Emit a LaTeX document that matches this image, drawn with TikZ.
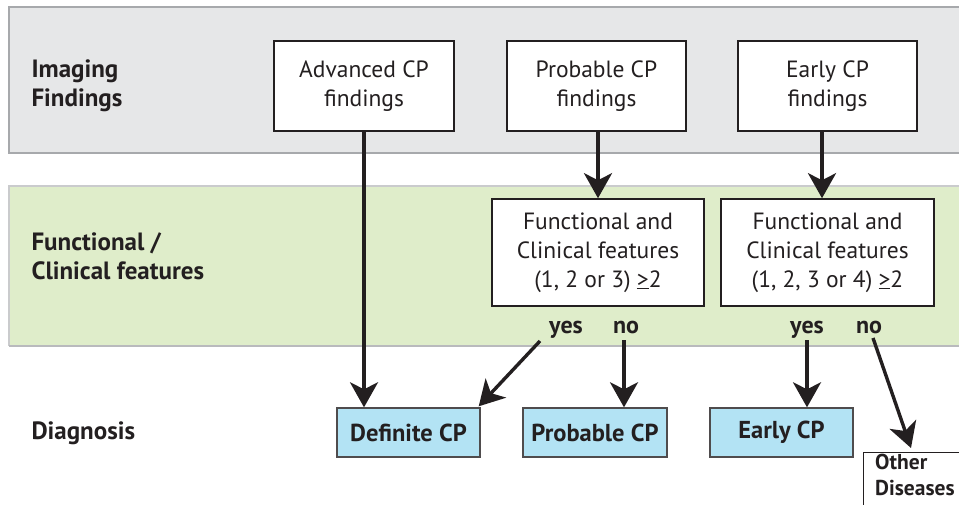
\documentclass[tikz,border=0pt]{standalone}
\usepackage{fontspec}
\setmainfont{PT Sans}
\usetikzlibrary{arrows.meta,calc}
\definecolor{bandgray}{HTML}{E6E7E8}
\definecolor{bandgreen}{HTML}{DFEDCA}
\definecolor{bandline}{HTML}{A7A9AC}
\definecolor{boxblue}{HTML}{B3E3F4}
\definecolor{ink}{HTML}{231F20}
\tikzset{
  wbox/.style={draw=ink, line width=1.6pt, fill=white, align=center, inner sep=0pt,
    font=\fontsize{23.5}{29}\selectfont, text=ink},
  dbox/.style={draw=ink!80, line width=1.4pt, fill=boxblue, align=center, inner sep=0pt,
    minimum width=143pt, minimum height=49pt, font=\fontsize{24.5}{24}\selectfont\bfseries, text=ink},
  rowlbl/.style={anchor=west, align=left, font=\fontsize{25}{29}\selectfont\bfseries, text=ink},
  yn/.style={font=\fontsize{24}{24}\selectfont\bfseries, text=ink, inner sep=1pt, anchor=base},
  arr/.style={draw=ink, line width=3.4pt, -{Stealth[length=25pt,width=28pt,inset=7pt]}},
}
\begin{document}
\begin{tikzpicture}[x=1pt,y=-1pt]
\useasboundingbox (0,0) rectangle (959,504);
\clip (0,0) rectangle (959,504);
% bands
\fill[bandgray] (9,7) rectangle (975,153);
\draw[bandline, line width=1.8pt] (975,7) -- (9,7) -- (9,153) -- (975,153);
\fill[bandgreen] (9,186) rectangle (975,346);
\draw[bandline!60, line width=1.5pt] (975,186) -- (9,186) -- (9,346);
\draw[bandline!80, line width=2pt] (9,346) -- (975,346);
% row labels
\node[rowlbl] (lbl1) at (28,86) {Imaging\\Findings};
\node[rowlbl] (lbl2) at (28,256) {Functional /\\Clinical features};
\node[rowlbl] (lbl3) at (28,433) {Diagnosis};
% top boxes
\node[wbox, minimum width=180pt, minimum height=90pt] (adv) at (364,86) {Advanced CP\\findings};
\node[wbox, minimum width=179pt, minimum height=90pt] (probf) at (596.5,86) {Probable CP\\findings};
\node[wbox, minimum width=179pt, minimum height=90pt] (earlyf) at (827.5,86) {Early CP\\findings};
% functional boxes
\node[wbox, minimum width=212pt, minimum height=107pt] (func1) at (598,252.5) {Functional and\\Clinical features\\(1, 2 or 3) \underline{>}2};
\node[wbox, minimum width=213pt, minimum height=107pt] (func2) at (827.5,252.5) {Functional and\\Clinical features\\(1, 2, 3 or 4) \underline{>}2};
% yes / no
\node[yn] (yes1) at (566,333) {yes};
\node[yn] (no1) at (626,333) {no};
\node[yn] (yes2) at (807,333) {yes};
\node[yn] (no2) at (869,333) {no};
% diagnosis boxes
\node[dbox] (def) at (408.5,432.5) {Definite CP};
\node[dbox, minimum width=144pt] (prob) at (595,432.5) {Probable CP};
\node[dbox] (early) at (781.5,432.5) {Early CP};
\node[draw=ink, line width=1.4pt, fill=white, minimum width=110pt, minimum height=60pt, anchor=north west, inner sep=0pt] (other) at (863,452) {};
\node[anchor=north west, align=left, font=\fontsize{21.5}{26}\selectfont\bfseries, text=ink, inner sep=0pt] (othertxt) at (875,454) {Other\\Diseases};
% arrows
\draw[arr] (adv.south) -- (adv.south |- def.north);
\draw[arr] (probf.south -| func1.north) -- (func1.north);
\draw[arr] (earlyf.south -| 822,0) -- (func2.north -| 822,0);
\draw[arr] (540,341) -- ($(def.north east)+(-2,-1)$);
\draw[arr] (624,340) -- (prob.north -| 624,0);
\draw[arr] (807,340) -- (early.north -| 807,0);
\draw[arr] (873,338) -- ($(other.north west)+(48,-4)$);
\end{tikzpicture}
\end{document}
